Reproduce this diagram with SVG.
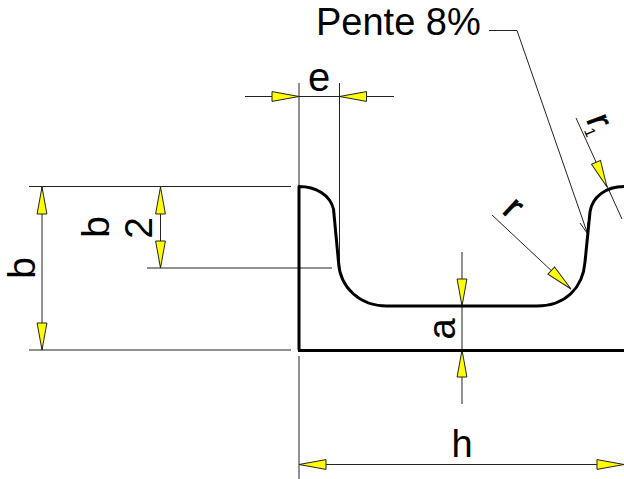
<svg xmlns="http://www.w3.org/2000/svg" width="624" height="479" viewBox="0 0 624 479">
<style>
.d{fill:none;stroke:#222;stroke-width:1}
.p{fill:none;stroke:#000;stroke-width:3;stroke-linejoin:round}
.a{fill:#ff0;stroke:#222;stroke-width:1}
text{font-family:"Liberation Sans",Arial,sans-serif;font-size:38px;fill:#000}
.m{font-size:39px}
.r{stroke:#000;stroke-width:.6;font-size:37px}
</style>
<defs><polygon id="ah" class="a" points="0,0 -27,-4.9 -27,4.9"/></defs>
<rect width="624" height="479" fill="#fff"/>
<g id="connectors">
<path class="d" d="M245 96.500H394M299 83V345M299 356V479M339.500 83V268M29 186.500H291M29 350H291M147 268H332M42 187V350M160.500 187V268M462 252V404M299 464.500H624M489 30.500H517L587 232M580 223L587 233L588 222M492 215L571 289M576 118L622 219"/>
<use href="#ah" transform="translate(299,96.500)"/>
<use href="#ah" transform="translate(339.500,96.500) rotate(180)"/>
<use href="#ah" transform="translate(42,187) rotate(-90)"/>
<use href="#ah" transform="translate(42,350) rotate(90)"/>
<use href="#ah" transform="translate(160.500,187) rotate(-90)"/>
<use href="#ah" transform="translate(160.500,268) rotate(90)"/>
<use href="#ah" transform="translate(462,306) rotate(90)"/>
<use href="#ah" transform="translate(462,350) rotate(-90)"/>
<use href="#ah" transform="translate(299,464.500) rotate(180)"/>
<use href="#ah" transform="translate(624,464.500)"/>
<use href="#ah" transform="translate(571,289) rotate(43)"/>
<use href="#ah" transform="translate(607,187) rotate(66)"/>
</g>
<g id="profile">
<path class="p" d="M299 350V186.500C316 186.500 330 195 333.500 209L338.500 262C340 288 360 306 387 306H537C565 306 583 288 585 262L590 212C592 197 606 186.500 624 186.500"/>
<path class="p" d="M298 350.500H624"/>
</g>
<g id="labels">
<text x="316" y="35">Pente 8%</text>
<text x="319" y="91" text-anchor="middle" style="font-size:40px">e</text>
<text x="462" y="457" text-anchor="middle">h</text>
<text class="m" transform="translate(35,268) rotate(-90)" text-anchor="middle">b</text>
<text class="m" transform="translate(109,227) rotate(-90)" text-anchor="middle">b</text>
<text class="m" transform="translate(152,228) rotate(-90)" text-anchor="middle">2</text>
<text transform="translate(455,329) rotate(-90)" text-anchor="middle">a</text>
<text class="r" transform="translate(501,212) rotate(43)">r</text>
<text class="r" transform="translate(586,119) rotate(70)">r</text>
<text transform="translate(583.700,130.500) rotate(67)" style="font-size:15px">1</text>
</g>
</svg>
